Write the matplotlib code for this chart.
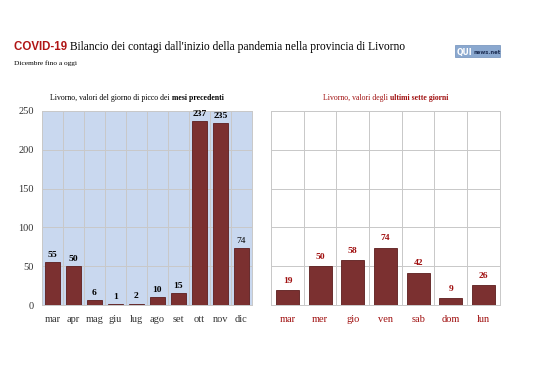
import numpy as np
import matplotlib
matplotlib.use("Agg")
import matplotlib.pyplot as plt
from matplotlib.patches import Rectangle

# ---------------- Data ----------------
mesi = ["mar", "apr", "mag", "giu", "lug", "ago", "set", "ott", "nov", "dic"]
picco_mesi = [55, 50, 6, 1, 2, 10, 15, 237, 235, 74]

giorni = ["mar", "mer", "gio", "ven", "sab", "dom", "lun"]
ultimi_giorni = [19, 50, 58, 74, 42, 9, 26]

# ---------------- Style ----------------
SERIF = "Liberation Serif"
BAR = "#7b3030"
EDGE = "#5c1d1d"
RED = "#a01010"
BG_LEFT = "#c9d8ef"
GRID = "#c8c8c8"

fig = plt.figure(figsize=(5.38, 3.80), dpi=100)
fig.patch.set_facecolor("white")


def write_parts(x, y, parts, size, ha="left"):
    # draws a row of text pieces one after another (figure coords)
    fig.canvas.draw()
    r = fig.canvas.get_renderer()
    widths = []
    texts = []
    for s, kw in parts:
        t = fig.text(0, y, s, fontsize=size, va="baseline", **kw)
        widths.append(t.get_window_extent(r).width / fig.bbox.width)
        texts.append(t)
    total = sum(widths)
    start = x - total / 2 if ha == "center" else x
    for t, w in zip(texts, widths):
        t.set_x(start)
        start += w


# ---------------- Title ----------------
write_parts(0.026, 0.868, [
    ("COVID-19 ", dict(family="Liberation Sans", fontweight="bold", color="#b01515")),
    ("Bilancio dei contagi dall'inizio della pandemia nella provincia di Livorno",
     dict(family=SERIF, color="black")),
], 8.3)
fig.text(0.026, 0.830, "Dicembre fino a oggi", family=SERIF, fontsize=5.3)

# logo
fig.patches.append(Rectangle((0.846, 0.850), 0.084, 0.032, transform=fig.transFigure,
                             facecolor="#8aa8cf", edgecolor="#6f8fba", lw=0.5))
fig.text(0.849, 0.856, "QUI", family="DejaVu Sans", fontweight="bold", fontsize=5.5, color="white")
fig.text(0.880, 0.857, "news.net", family="DejaVu Sans", fontweight="bold", fontsize=3.8, color="#1d2f55")

# ---------------- Left chart ----------------
ax1 = fig.add_axes([0.078, 0.197, 0.390, 0.511])
x1 = np.arange(len(mesi))
ax1.set_facecolor(BG_LEFT)
ax1.bar(x1, picco_mesi, width=0.72, color=BAR, edgecolor=EDGE, linewidth=0.6, zorder=3)
ax1.set_xlim(-0.5, len(mesi) - 0.5)
ax1.set_ylim(0, 250)
ax1.set_yticks([0, 50, 100, 150, 200, 250])
ax1.set_xticks(x1)
ax1.set_xticklabels(mesi)
for i in range(len(mesi) + 1):
    ax1.axvline(i - 0.5, color=GRID, lw=0.7, zorder=1)
ax1.yaxis.grid(True, color=GRID, lw=0.7, zorder=1)
ax1.set_axisbelow(True)
for i, v in enumerate(picco_mesi):
    ax1.text(i, v + 4, str(v), ha="center", va="bottom", family=SERIF, fontsize=6.8,
             fontweight="normal" if mesi[i] == "dic" else "bold", zorder=4)
for tl in ax1.get_xticklabels() + ax1.get_yticklabels():
    tl.set_family(SERIF)
    tl.set_fontsize(7.5)
    tl.set_color("#333333")
ax1.tick_params(axis="x", length=0, pad=7)
ax1.tick_params(axis="y", length=0, pad=6)
for s in ax1.spines.values():
    s.set_color(GRID)
    s.set_linewidth(0.7)

# ---------------- Right chart ----------------
ax2 = fig.add_axes([0.504, 0.197, 0.425, 0.511])
x2 = np.arange(len(giorni))
ax2.bar(x2, ultimi_giorni, width=0.7, color=BAR, edgecolor=EDGE, linewidth=0.6, zorder=3)
ax2.set_xlim(-0.5, len(giorni) - 0.5)
ax2.set_ylim(0, 250)
ax2.set_yticks([0, 50, 100, 150, 200, 250])
ax2.set_yticklabels([])
ax2.set_xticks(x2)
ax2.set_xticklabels(giorni)
for i in range(len(giorni) + 1):
    ax2.axvline(i - 0.5, color=GRID, lw=0.7, zorder=1)
ax2.yaxis.grid(True, color=GRID, lw=0.7, zorder=1)
ax2.set_axisbelow(True)
for i, v in enumerate(ultimi_giorni):
    ax2.text(i, v + 7, str(v), ha="center", va="bottom", family=SERIF, fontsize=6.8,
             fontweight="bold", color=RED, zorder=4)
for tl in ax2.get_xticklabels():
    tl.set_family(SERIF)
    tl.set_fontsize(7.5)
    tl.set_color(RED)
ax2.tick_params(length=0, pad=7)
for s in ax2.spines.values():
    s.set_color(GRID)
    s.set_linewidth(0.7)

# ---------------- Panel titles ----------------
write_parts(0.255, 0.738, [
    ("Livorno, valori del giorno di picco dei ", dict(family=SERIF, color="black")),
    ("mesi precedenti", dict(family=SERIF, fontweight="bold", color="black")),
], 5.6, ha="center")
write_parts(0.716, 0.738, [
    ("Livorno, valori degli ", dict(family=SERIF, color=RED)),
    ("ultimi sette giorni", dict(family=SERIF, fontweight="bold", color=RED)),
], 5.6, ha="center")

fig.savefig("out.png", dpi=100)
